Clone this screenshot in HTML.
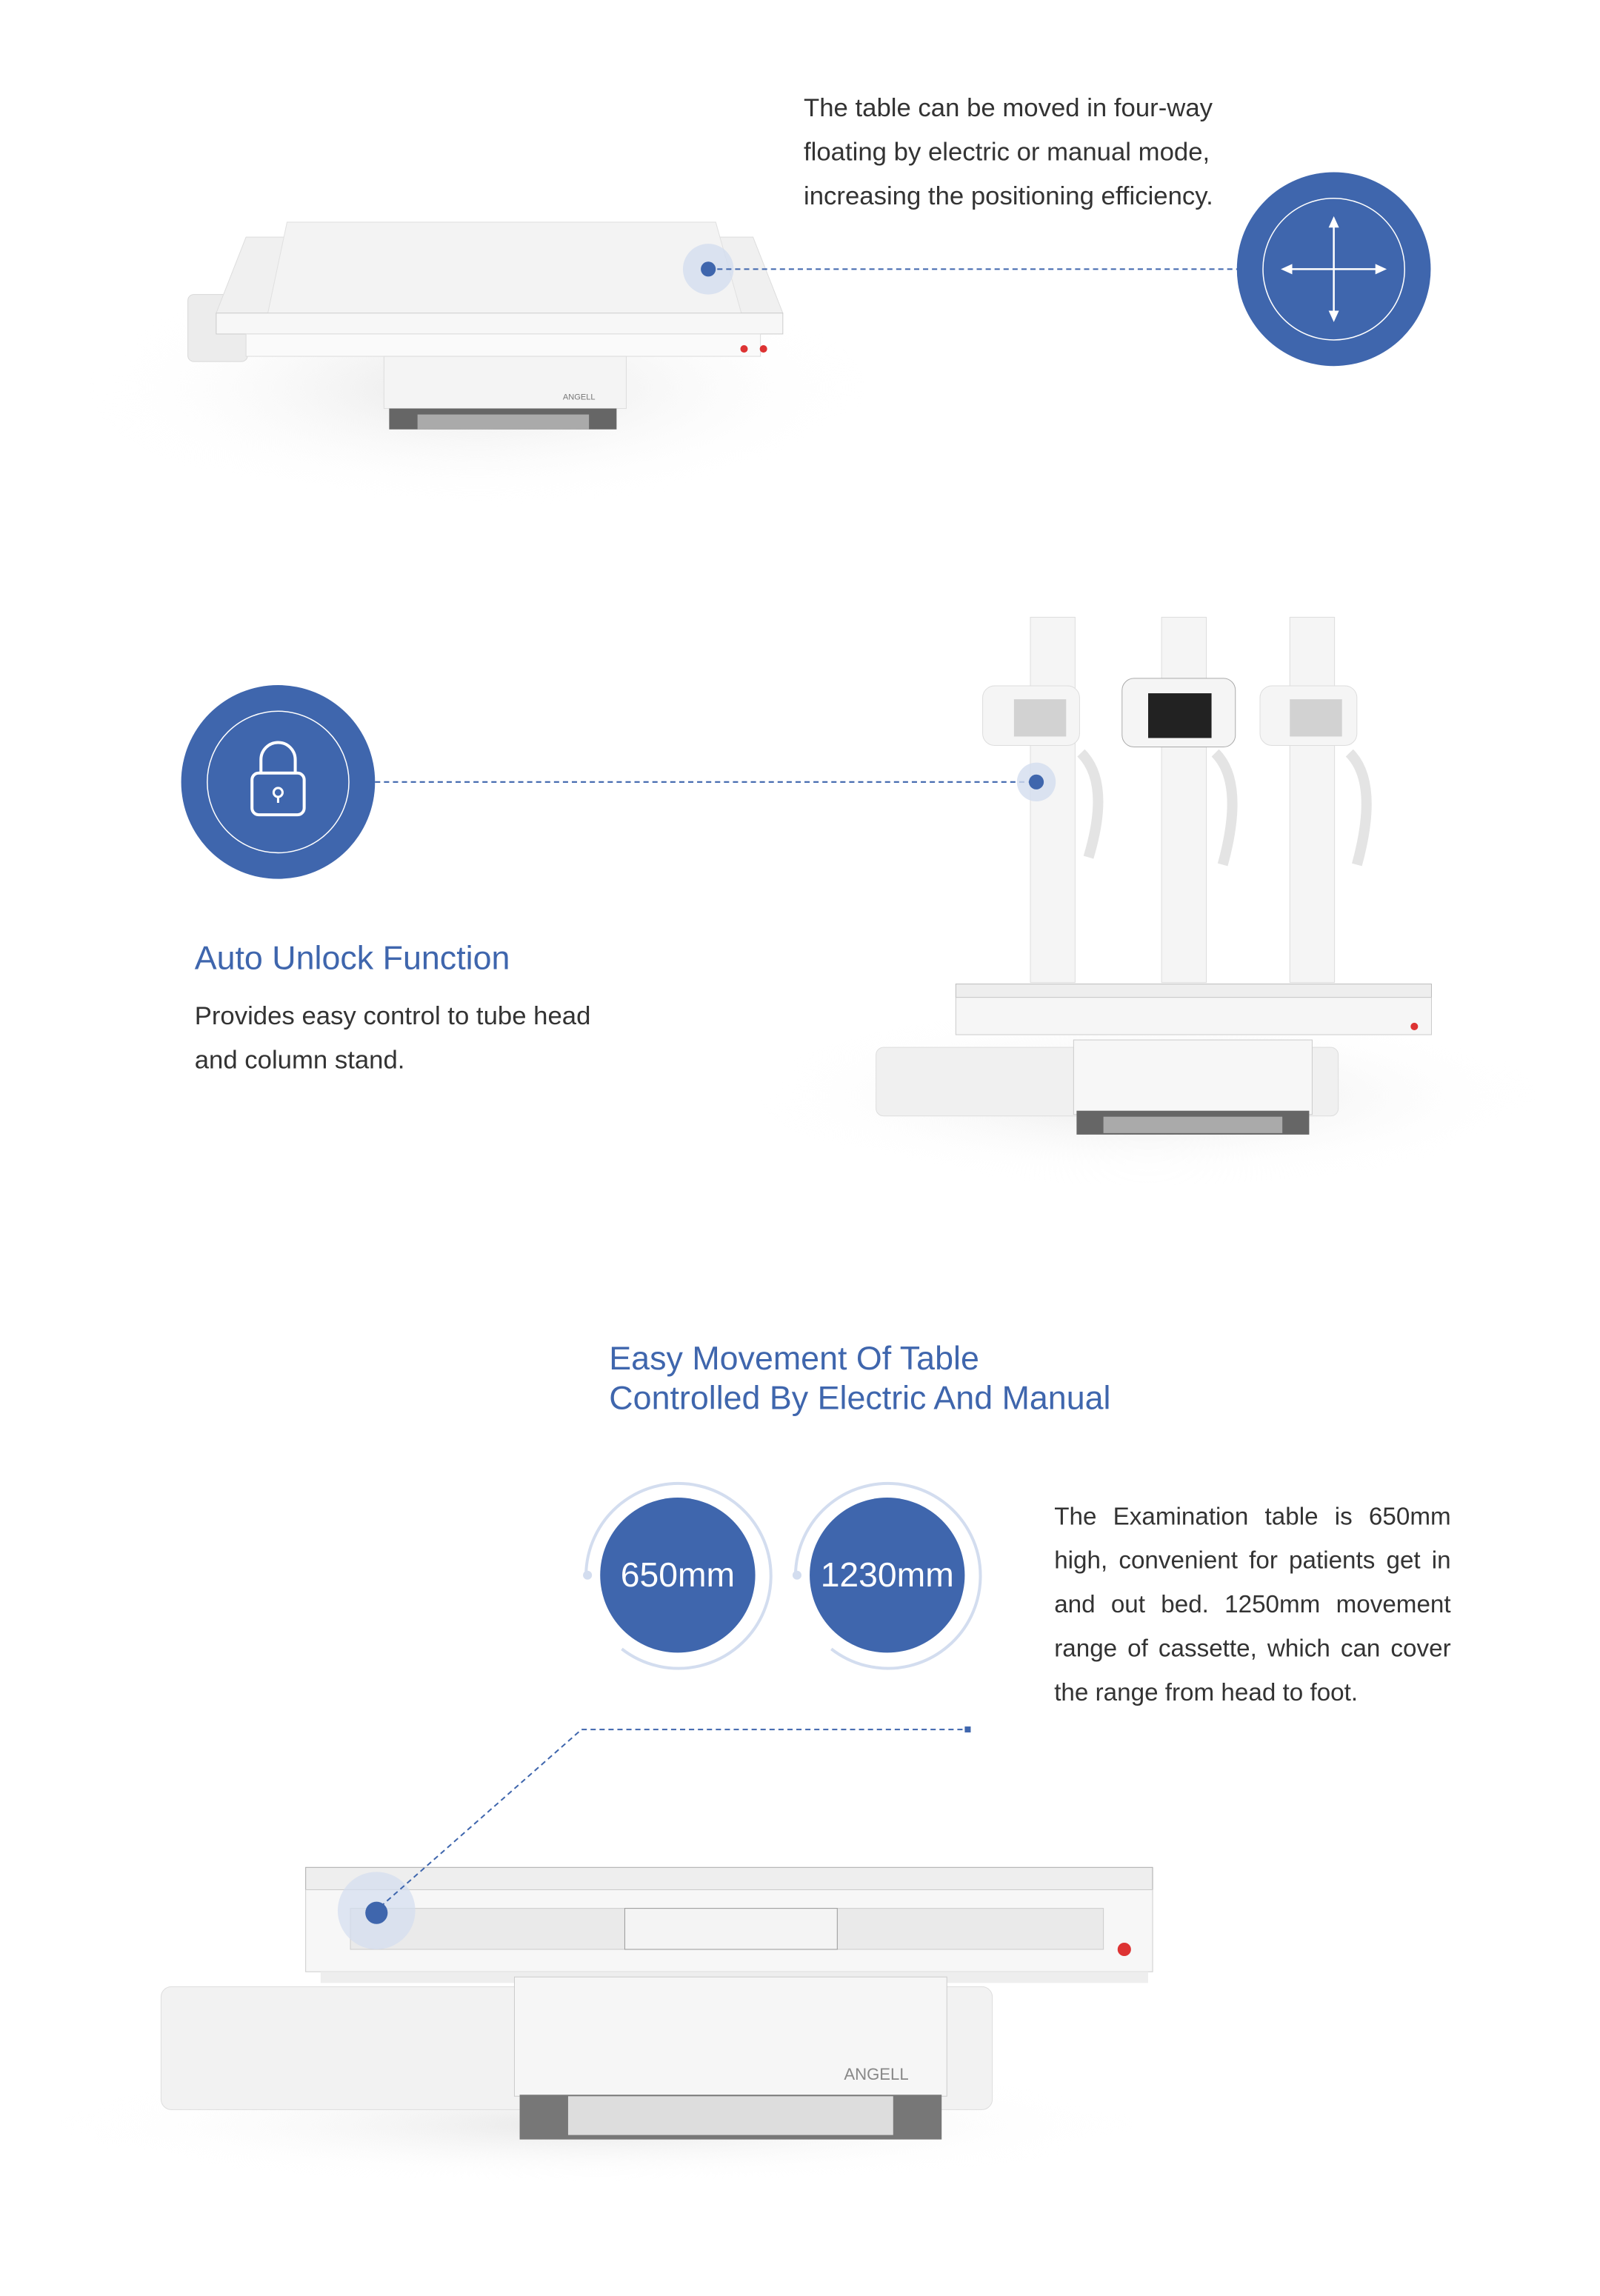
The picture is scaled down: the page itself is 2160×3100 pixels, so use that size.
<!DOCTYPE html>
<html><head><meta charset="utf-8"><style>
body{margin:0;background:#fff;}
#p{position:relative;width:2160px;height:3100px;overflow:hidden;font-family:"Liberation Sans",sans-serif;}
#w{position:absolute;left:0;top:0;width:2160px;height:3100px;transform:scale(1.0065);transform-origin:0 0;}
.t{position:absolute;color:#333;font-size:34.5px;line-height:59px;white-space:nowrap;}
.h{position:absolute;color:#3f66ad;font-size:44.5px;line-height:53px;white-space:nowrap;}
svg{position:absolute;left:0;top:0;}
</style></head><body><div id="p"><div id="w">
<svg width="2160" height="3100" viewBox="0 0 2160 3100">
<defs>
<radialGradient id="sh" cx="50%" cy="50%" r="50%"><stop offset="0" stop-color="#e6e6e6"/><stop offset="1" stop-color="#fff" stop-opacity="0"/></radialGradient>
</defs>
<ellipse cx="640" cy="520" rx="520" ry="160" fill="url(#sh)"/>
<rect x="252" y="395" width="80" height="90" rx="8" fill="#ececec" stroke="#d8d8d8"/>
<polygon points="330,318 1010,318 1050,420 290,420" fill="#f0f0f0" stroke="#ddd"/>
<polygon points="385,298 960,298 1000,440 355,440" fill="#f3f3f3" stroke="#e0e0e0"/>
<rect x="290" y="420" width="760" height="28" fill="#f7f7f7" stroke="#ccc"/>
<rect x="330" y="448" width="690" height="30" fill="#fafafa" stroke="#ddd"/>
<circle cx="998" cy="468" r="5" fill="#d33"/><circle cx="1024" cy="468" r="5" fill="#d33"/>
<rect x="515" y="478" width="325" height="70" fill="#f4f4f4" stroke="#ddd"/>
<rect x="522" y="548" width="305" height="28" fill="#666"/>
<rect x="560" y="556" width="230" height="20" fill="#aaa"/>
<text x="755" y="536" font-family="Liberation Sans" font-size="11" fill="#777">ANGELL</text>
<circle cx="950" cy="361" r="34" fill="#d3ddef" opacity="0.8"/>
<circle cx="950" cy="361" r="10" fill="#3f66ad"/>
<line x1="962" y1="361" x2="1660" y2="361" stroke="#3f66ad" stroke-width="2" stroke-dasharray="7,5"/>
<circle cx="1789" cy="361" r="130" fill="#3f66ad"/>
<circle cx="1789" cy="361" r="95" fill="none" stroke="#fff" stroke-width="1.5"/>
<g stroke="#fff" stroke-width="2.5" fill="#fff">
<line x1="1789" y1="298" x2="1789" y2="424"/><line x1="1726" y1="361" x2="1852" y2="361"/>
<polygon points="1789,293 1784,304 1794,304"/><polygon points="1789,429 1784,418 1794,418"/>
<polygon points="1721,361 1732,356 1732,366"/><polygon points="1857,361 1846,356 1846,366"/>
</g>
<circle cx="373" cy="1049" r="130" fill="#3f66ad"/>
<circle cx="373" cy="1049" r="95" fill="none" stroke="#fff" stroke-width="1.5"/>
<rect x="338" y="1037" width="70" height="56" rx="9" fill="none" stroke="#fff" stroke-width="4"/>
<path d="M350 1037 v-18 a23 23 0 0 1 46 0 v18" fill="none" stroke="#fff" stroke-width="4"/>
<circle cx="373" cy="1063" r="6" fill="none" stroke="#fff" stroke-width="3"/>
<line x1="373" y1="1069" x2="373" y2="1077" stroke="#fff" stroke-width="3"/>
<line x1="503" y1="1049" x2="1380" y2="1049" stroke="#3f66ad" stroke-width="2" stroke-dasharray="7,5"/>
<ellipse cx="1540" cy="1470" rx="520" ry="120" fill="url(#sh)"/>
<g fill="#f5f5f5" stroke="#ddd">
<rect x="1382" y="828" width="60" height="490"/><rect x="1558" y="828" width="60" height="490"/><rect x="1730" y="828" width="60" height="490"/>
<rect x="1318" y="920" width="130" height="80" rx="16"/><rect x="1505" y="910" width="152" height="92" rx="16" stroke="#aaa"/><rect x="1690" y="920" width="130" height="80" rx="16"/>
</g>
<rect x="1540" y="930" width="85" height="60" fill="#222"/>
<rect x="1360" y="938" width="70" height="50" fill="#bbb" opacity="0.6"/><rect x="1730" y="938" width="70" height="50" fill="#bbb" opacity="0.6"/>
<g fill="none" stroke="#e4e4e4" stroke-width="14"><path d="M1450 1010 q40 40 10 140"/><path d="M1630 1010 q40 40 10 150"/><path d="M1810 1010 q40 40 10 150"/></g>
<rect x="1282" y="1320" width="638" height="18" fill="#eee" stroke="#bbb"/>
<rect x="1282" y="1338" width="638" height="50" fill="#f6f6f6" stroke="#ccc"/>
<circle cx="1897" cy="1377" r="5" fill="#d33"/>
<rect x="1175" y="1405" width="620" height="92" rx="10" fill="#f0f0f0" stroke="#ddd"/>
<rect x="1440" y="1395" width="320" height="100" fill="#f7f7f7" stroke="#ccc"/>
<rect x="1444" y="1490" width="312" height="32" fill="#666"/>
<rect x="1480" y="1498" width="240" height="22" fill="#aaa"/>
<circle cx="1390" cy="1049" r="26" fill="#d3ddef" opacity="0.8"/>
<circle cx="1390" cy="1049" r="10" fill="#3f66ad"/>
<path d="M786 2113 A124 124 0 1 1 834 2212" fill="none" stroke="#d3ddef" stroke-width="4"/>
<circle cx="788" cy="2113" r="6" fill="#d3ddef"/>
<circle cx="909" cy="2113" r="104" fill="#3f66ad"/>
<path d="M1067 2113 A124 124 0 1 1 1115 2212" fill="none" stroke="#d3ddef" stroke-width="4"/>
<circle cx="1069" cy="2113" r="6" fill="#d3ddef"/>
<circle cx="1190" cy="2113" r="104" fill="#3f66ad"/>
<text x="909" y="2128" text-anchor="middle" font-family="Liberation Sans" font-size="46" fill="#fff">650mm</text>
<text x="1190" y="2128" text-anchor="middle" font-family="Liberation Sans" font-size="46" fill="#fff">1230mm</text>
<ellipse cx="800" cy="2850" rx="720" ry="80" fill="url(#sh)"/>
<rect x="216" y="2665" width="1115" height="165" rx="14" fill="#f2f2f2" stroke="#ddd"/>
<rect x="410" y="2505" width="1136" height="30" fill="#eee" stroke="#aaa"/>
<rect x="410" y="2535" width="1136" height="110" fill="#f7f7f7" stroke="#ccc"/>
<rect x="470" y="2560" width="1010" height="55" fill="#eaeaea" stroke="#ccc"/>
<rect x="838" y="2560" width="285" height="55" fill="#f4f4f4" stroke="#999"/>
<circle cx="1508" cy="2615" r="9" fill="#d33"/>
<rect x="430" y="2645" width="1110" height="15" fill="#eee"/>
<rect x="690" y="2652" width="580" height="160" fill="#f6f6f6" stroke="#ccc"/>
<rect x="697" y="2810" width="566" height="60" fill="#777"/>
<rect x="762" y="2812" width="436" height="52" fill="#ddd"/>
<text x="1132" y="2790" font-family="Liberation Sans" font-size="22" fill="#888">ANGELL</text>
<circle cx="505" cy="2563" r="52" fill="#d3ddef" opacity="0.7"/>
<circle cx="505" cy="2566" r="15" fill="#3f66ad"/>
<polyline points="510,2558 780,2320 1298,2320" fill="none" stroke="#3f66ad" stroke-width="2" stroke-dasharray="7,5"/>
<rect x="1294" y="2316" width="8" height="8" fill="#3f66ad"/>
</svg>
<div class="t" style="left:1078px;top:116px">The table can be moved in four-way<br>floating by electric or manual mode,<br>increasing the positioning efficiency.</div>
<div class="h" style="left:261px;top:1259px">Auto Unlock Function</div>
<div class="t" style="left:261px;top:1334px">Provides easy control to tube head<br>and column stand.</div>
<div class="h" style="left:817px;top:1796px">Easy Movement Of Table<br>Controlled By Electric And Manual</div>
<div class="t" style="left:1414px;top:2004px;white-space:normal;width:532px;font-size:33px;text-align:justify;text-align-last:left">The Examination table is 650mm high, convenient for patients get in and out bed. 1250mm movement range of cassette, which can cover the range from head to foot.</div>
</div></div></body></html>
